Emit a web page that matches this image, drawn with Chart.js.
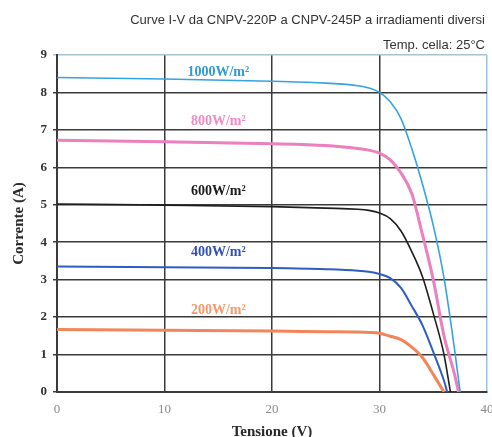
<!DOCTYPE html>
<html lang="it">
<head>
<meta charset="UTF-8">
<title>Curve I-V</title>
<script src="https://cdn.jsdelivr.net/npm/chart.js"></script>
<style>
    body { margin: 0; background: #fff; }
    #wrap { width: 492px; height: 437px; position: relative; }
</style>
</head>
<body>
<div id="wrap"><canvas id="ivChart"></canvas></div>
<script>
// Data (V in volts, I in amps)
const v1000 = [0, 10, 20, 25, 28, 29, 30, 31, 32, 33, 34, 35, 36, 37, 37.5];
const i1000 = [8.40, 8.36, 8.30, 8.25, 8.18, 8.12, 8.00, 7.75, 7.30, 6.50, 5.55, 4.45, 3.05, 1.10, 0];

const v800 = [0, 10, 20, 25, 28, 29, 30, 31, 32, 33, 34, 35, 36, 37, 37.35];
const i800 = [6.72, 6.68, 6.63, 6.58, 6.50, 6.46, 6.38, 6.20, 5.85, 5.30, 4.20, 3.00, 1.50, 0.45, 0];

const v600 = [0, 10, 20, 25, 28, 29, 30, 31, 32, 33, 34, 35, 36, 36.6];
const i600 = [5.02, 4.99, 4.95, 4.91, 4.88, 4.85, 4.78, 4.63, 4.30, 3.75, 3.08, 2.10, 1.00, 0];

const v400 = [0, 10, 20, 25, 28, 29, 30, 31, 32, 33, 34, 35, 36, 36.3];
const i400 = [3.35, 3.33, 3.31, 3.28, 3.24, 3.21, 3.15, 3.04, 2.78, 2.30, 1.78, 1.07, 0.30, 0];

const v200 = [0, 10, 20, 25, 28, 29, 30, 31, 32, 33, 34, 35, 36];
const i200 = [1.67, 1.65, 1.63, 1.61, 1.60, 1.59, 1.57, 1.49, 1.40, 1.20, 0.92, 0.47, 0];

const seriesNames = ['1000W/m²', '800W/m²', '600W/m²', '400W/m²', '200W/m²'];
// where each irradiance label sits (V, I)
const labelV = [15, 15, 15, 15, 15];
const labelI = [8.53, 7.22, 5.35, 3.74, 2.19];

const xTicks = [0, 10, 20, 30, 40];
const yTicks = [0, 1, 2, 3, 4, 5, 6, 7, 8, 9];

const colors = ['#35a3df', '#ec7fbd', '#1e1e1e', '#2e5cc0', '#f2855a'];
const widths = [1.6, 3, 1.6, 2, 3];
const labelColors = ['#2f9ad6', '#ef8cc4', '#1a1a1a', '#3550b5', '#f49a6a'];

const toPts = (vs, is) => vs.map((v, k) => ({ x: v, y: is[k] }));
const allV = [v1000, v800, v600, v400, v200];
const allI = [i1000, i800, i600, i400, i200];

const datasets = allV.map((vs, k) => ({
    label: seriesNames[k],
    data: toPts(vs, allI[k]),
    borderColor: colors[k],
    borderWidth: widths[k],
    pointRadius: 0,
    fill: false,
    cubicInterpolationMode: 'monotone'
}));

const serif = '"Liberation Serif", "Times New Roman", serif';
const sans = '"Liberation Sans", Arial, sans-serif';

// draws the header text and the irradiance labels
const textPlugin = {
    id: 'texts',
    afterDraw(chart) {
        const ctx = chart.ctx;
        const xs = chart.scales.x, ys = chart.scales.y;
        ctx.save();
        ctx.fillStyle = '#333';
        ctx.font = '13px ' + sans;
        ctx.textAlign = 'right';
        ctx.textBaseline = 'middle';
        ctx.fillText('Curve I-V da CNPV-220P a CNPV-245P a irradiamenti diversi', 485, 20);
        ctx.fillText('Temp. cella: 25°C', 485, 45);

        ctx.font = 'bold 14px ' + serif;
        ctx.textAlign = 'center';
        seriesNames.forEach((name, k) => {
            ctx.fillStyle = labelColors[k];
            ctx.fillText(name, xs.getPixelForValue(labelV[k]), ys.getPixelForValue(labelI[k]));
        });
        ctx.restore();
    }
};

new Chart(document.getElementById('ivChart'), {
    type: 'line',
    data: { datasets: datasets },
    plugins: [textPlugin],
    options: {
        responsive: true,
        maintainAspectRatio: false,
        animation: false,
        layout: { padding: { top: 55, right: 5, left: 0, bottom: 0 } },
        plugins: { legend: { display: false }, tooltip: { enabled: false } },
        scales: {
            x: {
                type: 'linear',
                min: 0, max: 40,
                afterBuildTicks: s => { s.ticks = xTicks.map(v => ({ value: v })); },
                afterFit: s => { s.height = 45; s.paddingLeft = 0; s.paddingRight = 0; },
                grid: {
                    color: c => c.tick.value === 40 ? '#9cc3dc' : '#3a3a3a',
                    lineWidth: 1.5,
                    drawTicks: false
                },
                border: { color: '#3a3a3a', width: 2 },
                ticks: {
                    color: '#8a8a8a',
                    font: { family: serif, size: 13 },
                    padding: 10
                },
                title: {
                    display: true,
                    text: 'Tensione (V)',
                    color: '#2a2a2a',
                    font: { family: serif, size: 15, weight: 'bold' },
                    padding: { top: 8, bottom: -4 }
                }
            },
            y: {
                min: 0, max: 9,
                afterBuildTicks: s => { s.ticks = yTicks.map(v => ({ value: v })); },
                afterFit: s => { s.width = 57; s.paddingTop = 0; s.paddingBottom = 0; },
                grid: {
                    color: c => c.tick.value === 9 ? '#a9c2d2' : '#3a3a3a',
                    lineWidth: 1.5,
                    drawTicks: true,
                    tickLength: 4
                },
                border: { color: '#3a3a3a', width: 2 },
                ticks: {
                    color: '#333',
                    font: { family: serif, size: 13, weight: 'bold' },
                    padding: 6
                },
                title: {
                    display: true,
                    text: 'Corrente (A)',
                    color: '#2a2a2a',
                    font: { family: serif, size: 15, weight: 'bold' },
                    padding: { top: 10, bottom: 4 }
                }
            }
        }
    }
});
</script>
</body>
</html>
